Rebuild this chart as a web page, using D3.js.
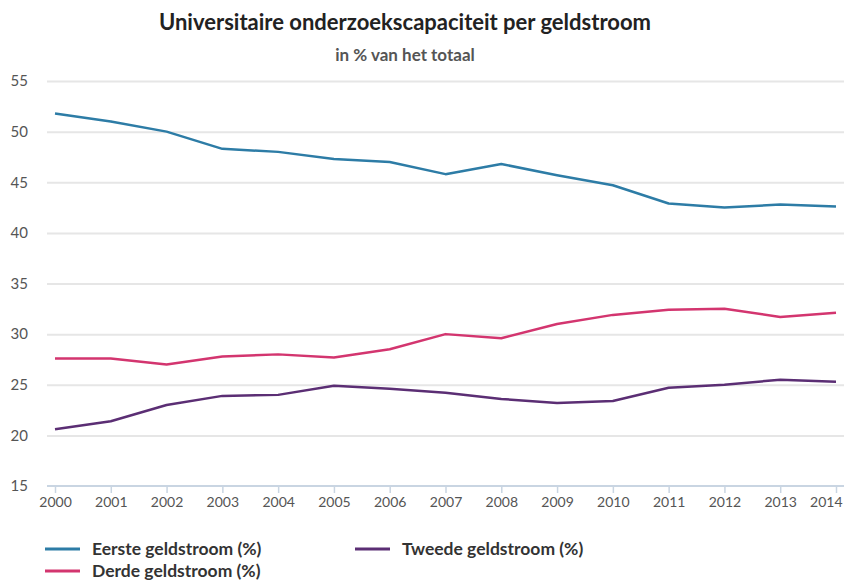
<!DOCTYPE html>
<html>
<head>
<meta charset="utf-8">
<script src="https://cdn.jsdelivr.net/npm/d3@7"></script>
<style>
  html, body { margin: 0; padding: 0; background: #fff; }
  svg { display: block; font-family: Lato, "Open Sans", sans-serif; }
</style>
</head>
<body>
<svg id="chart" width="844" height="583"></svg>
<script>
// Years on the x axis
const years = [2000, 2001, 2002, 2003, 2004, 2005, 2006, 2007, 2008, 2009, 2010, 2011, 2012, 2013, 2014];

// Share of university research capacity per funding stream (% of total)
const eersteGeldstroom = [51.8, 51.0, 50.0, 48.3, 48.0, 47.3, 47.0, 45.8, 46.8, 45.7, 44.7, 42.9, 42.5, 42.8, 42.6];
const tweedeGeldstroom = [20.6, 21.4, 23.0, 23.9, 24.0, 24.9, 24.6, 24.2, 23.6, 23.2, 23.4, 24.7, 25.0, 25.5, 25.3];
const derdeGeldstroom  = [27.6, 27.6, 27.0, 27.8, 28.0, 27.7, 28.5, 30.0, 29.6, 31.0, 31.9, 32.4, 32.5, 31.7, 32.1];

const yTicks = [15, 20, 25, 30, 35, 40, 45, 50, 55];

const series = [
  { name: "Eerste geldstroom (%)", values: eersteGeldstroom, color: "#2d7ca6" },
  { name: "Tweede geldstroom (%)", values: tweedeGeldstroom, color: "#5b2e74" },
  { name: "Derde geldstroom (%)",  values: derdeGeldstroom,  color: "#d3356f" }
];

const svg = d3.select("#chart");

const x = d3.scaleLinear().domain([2000, 2014]).range([55, 836]);
const y = d3.scaleLinear().domain([15, 55]).range([486, 81]);

// Title and subtitle
svg.append("text")
  .attr("x", 405).attr("y", 30)
  .attr("text-anchor", "middle")
  .attr("font-size", 22).attr("font-weight", 700)
  .attr("fill", "#222")
  .text("Universitaire onderzoekscapaciteit per geldstroom");

svg.append("text")
  .attr("x", 405).attr("y", 61)
  .attr("text-anchor", "middle")
  .attr("font-size", 17).attr("font-weight", 700)
  .attr("fill", "#555")
  .text("in % van het totaal");

// Horizontal gridlines with y labels
const yAxis = d3.axisLeft(y).tickValues(yTicks).tickSize(0).tickPadding(0);
const gy = svg.append("g").attr("transform", "translate(47,0)").call(yAxis);
gy.select(".domain").remove();
gy.selectAll(".tick line")
  .attr("x2", 844 - 47)
  .attr("stroke", "#e6e6e6")
  .attr("stroke-width", 2)
  .filter(d => d === 15).remove();
gy.selectAll(".tick text")
  .attr("x", -19)
  .attr("text-anchor", "end")
  .attr("font-family", "Lato, sans-serif")
  .attr("font-size", 15)
  .attr("fill", "#555");

// X axis
const xAxis = d3.axisBottom(x).tickValues(years).tickFormat(d3.format("d")).tickSize(7).tickPadding(4).tickSizeOuter(0);
const gx = svg.append("g").attr("transform", "translate(0,486)").call(xAxis);
gx.select(".domain").attr("d", "M47,0H844").attr("stroke", "#c9d5e2").attr("stroke-width", 2);
gx.selectAll(".tick line").attr("stroke", "#c9d5e2").attr("stroke-width", 1.5);
gx.selectAll(".tick text")
  .attr("font-family", "Lato, sans-serif")
  .attr("font-size", 14)
  .attr("fill", "#555");
// keep the last year label inside the frame
gx.selectAll(".tick text").filter(d => d === 2014)
  .attr("text-anchor", "end")
  .attr("x", 842 - x(2014));

// Lines
const line = d3.line().x((d, i) => x(years[i])).y(d => y(d));
svg.append("g").selectAll("path")
  .data(series)
  .join("path")
  .attr("d", d => line(d.values))
  .attr("fill", "none")
  .attr("stroke", d => d.color)
  .attr("stroke-width", 2.5)
  .attr("stroke-linejoin", "round");

// Legend
const legendPos = [[45, 549], [355, 549], [45, 571]];
const lg = svg.append("g").selectAll("g")
  .data(series)
  .join("g")
  .attr("transform", (d, i) => `translate(${legendPos[i][0]},${legendPos[i][1]})`);
lg.append("line")
  .attr("x1", 0).attr("x2", 35).attr("y1", 0).attr("y2", 0)
  .attr("stroke", d => d.color).attr("stroke-width", 3);
lg.append("text")
  .attr("x", 47).attr("y", 6)
  .attr("font-size", 17.5).attr("font-weight", 700)
  .attr("fill", "#333")
  .text(d => d.name);
</script>
</body>
</html>
